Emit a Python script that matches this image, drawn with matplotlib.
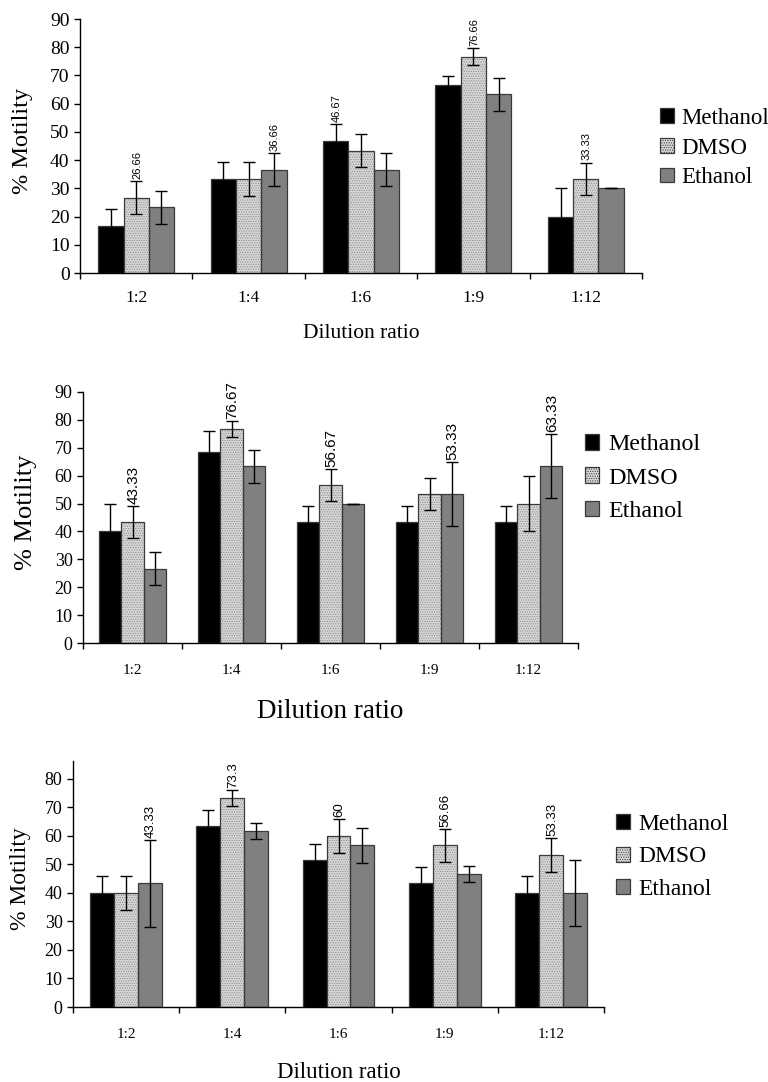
import matplotlib
matplotlib.use('Agg')
import matplotlib.pyplot as plt
from matplotlib.patches import Patch
import numpy as np

# ---- data ----
categories = ['1:2', '1:4', '1:6', '1:9', '1:12']
series = ['Methanol', 'DMSO', 'Ethanol']

# panel A
a_methanol = [16.67, 33.33, 46.67, 66.67, 20.0]
a_methanol_err = [6.0, 6.0, 6.0, 3.3, 10.0]
a_dmso = [26.66, 33.33, 43.33, 76.66, 33.33]
a_dmso_err = [5.8, 6.0, 5.8, 2.9, 5.8]
a_ethanol = [23.33, 36.66, 36.67, 63.33, 30.0]
a_ethanol_err = [5.8, 5.8, 5.8, 5.8, 0.0]
a_labels = ['26.66', '36.66', '46.67', '76.66', '33.33']
a_label_on = [1, 2, 0, 1, 1]   # index of series carrying the label

# panel B
b_methanol = [40.0, 68.33, 43.33, 43.33, 43.33]
b_methanol_err = [10.0, 7.6, 5.8, 5.8, 5.8]
b_dmso = [43.33, 76.67, 56.67, 53.33, 50.0]
b_dmso_err = [5.8, 2.9, 5.8, 5.8, 10.0]
b_ethanol = [26.67, 63.33, 50.0, 53.33, 63.33]
b_ethanol_err = [5.8, 5.8, 0.0, 11.5, 11.5]
b_labels = ['43.33', '76.67', '56.67', '53.33', '63.33']
b_label_on = [1, 1, 1, 2, 2]

# panel C
c_methanol = [40.0, 63.33, 51.67, 43.33, 40.0]
c_methanol_err = [5.8, 5.8, 5.5, 5.8, 5.8]
c_dmso = [40.0, 73.3, 60.0, 56.66, 53.33]
c_dmso_err = [5.8, 2.9, 5.8, 5.8, 5.8]
c_ethanol = [43.33, 61.67, 56.67, 46.67, 40.0]
c_ethanol_err = [15.3, 2.9, 6.0, 2.9, 11.5]
c_labels = ['43.33', '73.3', '60', '56.66', '53.33']
c_label_on = [2, 1, 1, 1, 1]

# ---- styles ----
SERIF = 'Liberation Serif'
SANS = ['Liberation Sans Narrow', 'Liberation Sans', 'DejaVu Sans']
FACE = ['#000000', '#d6d6d6', '#808080']
W = 0.225
FIG_W, FIG_H = 768, 1082

plt.rcParams['font.family'] = SERIF
plt.rcParams['hatch.linewidth'] = 0.5


def px_rect(left, right, top, bottom):
    """axes rectangle from pixel edges"""
    return [left / FIG_W, 1 - bottom / FIG_H, (right - left) / FIG_W, (bottom - top) / FIG_H]


def draw_panel(fig, rect, vals, errs, labels, label_on, ylim, yticks, st):
    ax = fig.add_axes(rect)
    x = np.arange(len(categories))
    for i in range(3):
        xs = x + (i - 1) * W
        if i == 1:
            # stippled fill, then the outline on top
            ax.bar(xs, vals[i], W, color=FACE[i], edgecolor='#8a8a8a', hatch='.......', linewidth=0, zorder=2)
            ax.bar(xs, vals[i], W, fill=False, edgecolor='#3a3a3a', linewidth=0.9, zorder=3)
        else:
            ax.bar(xs, vals[i], W, color=FACE[i], edgecolor='#3a3a3a', linewidth=0.9, zorder=2)
        ax.errorbar(xs, vals[i], yerr=errs[i], fmt='none', ecolor='black',
                    elinewidth=1, capsize=4, capthick=1, zorder=4)
    for k, lab in enumerate(labels):
        s = label_on[k]
        ax.text(x[k] + (s - 1) * W + 0.01, vals[s][k] + errs[s][k] + 0.8, lab,
                rotation=90, ha='center', va='bottom', family=SANS, fontsize=st['ann'], zorder=5)

    ax.set_xlim(-0.5, len(categories) - 0.5)
    ax.set_ylim(*ylim)
    ax.set_yticks(yticks)
    ax.set_xticks(np.arange(len(categories) + 1) - 0.5)
    ax.set_xticklabels([])
    ax.set_xticks(x, minor=True)
    ax.set_xticklabels(categories, minor=True)
    ax.tick_params(axis='x', which='minor', length=0, pad=st['xpad'], labelsize=st['xtick'])
    ax.tick_params(axis='x', which='major', direction='out', length=4.5, width=1)
    ax.tick_params(axis='y', direction='out', length=4.5, width=1, labelsize=st['ytick'], pad=3)
    for s in ['top', 'right']:
        ax.spines[s].set_visible(False)
    for s in ['left', 'bottom']:
        ax.spines[s].set_linewidth(1)
    ax.set_ylabel('% Motility', fontsize=st['ylab'])
    ax.yaxis.set_label_coords(st['ylab_x'], 0.52)
    ax.set_xlabel('Dilution ratio', fontsize=st['xlab'])
    ax.xaxis.set_label_coords(0.5, st['xlab_y'])

    handles = [Patch(facecolor=FACE[0], edgecolor='#3a3a3a', linewidth=0.9),
               Patch(facecolor=FACE[1], edgecolor='#3a3a3a', hatch='.......', linewidth=0.9),
               Patch(facecolor=FACE[2], edgecolor='#3a3a3a', linewidth=0.9)]
    fig.legend(handles, series, loc='center left',
               bbox_to_anchor=(st['leg_x'] / FIG_W, 1 - st['leg_y'] / FIG_H),
               frameon=False, fontsize=st['leg'], handlelength=0.6, handleheight=0.6,
               handletextpad=0.35, labelspacing=st['leg_sp'], borderpad=0, borderaxespad=0)
    return ax


fig = plt.figure(figsize=(FIG_W / 100, FIG_H / 100), dpi=100)

draw_panel(fig, px_rect(80, 642, 19, 273),
           [a_methanol, a_dmso, a_ethanol], [a_methanol_err, a_dmso_err, a_ethanol_err],
           a_labels, a_label_on, (0, 90), range(0, 91, 10),
           dict(ann=8, xtick=12.5, ytick=14, ylab=17.5, xlab=15.5, xpad=12,
                ylab_x=-0.084, xlab_y=-0.2, leg_x=660, leg_y=148, leg=16.5, leg_sp=0.38))

draw_panel(fig, px_rect(83, 578, 392, 643),
           [b_methanol, b_dmso, b_ethanol], [b_methanol_err, b_dmso_err, b_ethanol_err],
           b_labels, b_label_on, (0, 90), range(0, 91, 10),
           dict(ann=11, xtick=11, ytick=13, ylab=19, xlab=19.5, xpad=15,
                ylab_x=-0.092, xlab_y=-0.225, leg_x=585, leg_y=478, leg=17.3, leg_sp=0.5))

draw_panel(fig, px_rect(73, 604, 761, 1007),
           [c_methanol, c_dmso, c_ethanol], [c_methanol_err, c_dmso_err, c_ethanol_err],
           c_labels, c_label_on, (0, 86.3), range(0, 81, 10),
           dict(ann=9.5, xtick=11, ytick=13, ylab=17, xlab=16.5, xpad=15,
                ylab_x=-0.08, xlab_y=-0.225, leg_x=616, leg_y=857, leg=17, leg_sp=0.5))

fig.savefig('out.png', dpi=100)
